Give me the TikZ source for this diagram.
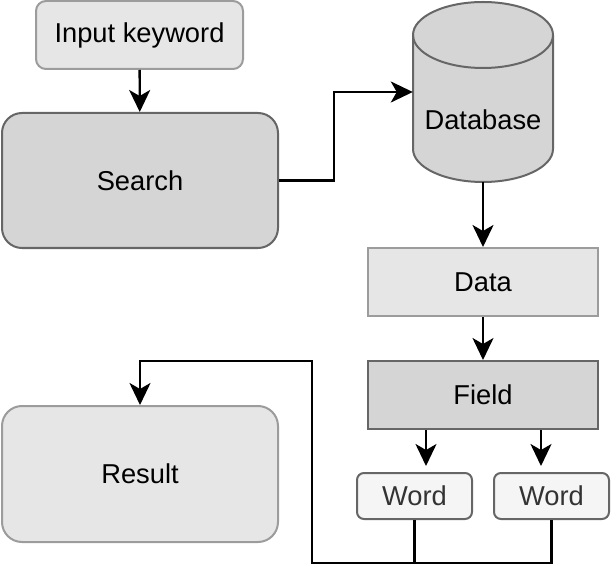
\documentclass[tikz,border=0pt]{standalone}
\usepackage{xcolor}
\usepackage{fontspec}
\setmainfont{Liberation Sans}
\usetikzlibrary{arrows.meta}
\definecolor{lightfill}{HTML}{E6E6E6}
\definecolor{darkfill}{HTML}{D5D5D5}
\definecolor{wordfill}{HTML}{F5F5F5}
\definecolor{lightline}{HTML}{9C9C9C}
\definecolor{darkline}{HTML}{666666}

\begin{document}
\begin{tikzpicture}[x=1pt,y=1pt,font=\fontsize{27.3}{32}\selectfont,
  light/.style={draw=lightline,fill=lightfill,line width=2,inner sep=0},
  dark/.style={draw=darkline,fill=darkfill,line width=2,inner sep=0},
  wordbox/.style={draw=darkline,fill=wordfill,line width=2,rounded corners=7,
    minimum width=115,minimum height=46,inner sep=0,text=black!80},
  arr/.style={line width=2.3,-{Stealth[length=22,width=21,inset=6]}},
  link/.style={line width=2.3}]
\useasboundingbox (0,0) rectangle (613,582);
\draw[dark] (413,547) -- (413,433) arc[start angle=180,end angle=360,x radius=70,y radius=33]
  -- (553,547) arc[start angle=0,end angle=180,x radius=70,y radius=33] -- cycle;
\draw[darkline,line width=2] (413,547) arc[start angle=180,end angle=360,x radius=70,y radius=33];
\node[light,rounded corners=10,minimum width=207,minimum height=68] (input) at (139.5,547) {Input keyword};
\node[dark,rounded corners=20,minimum width=276,minimum height=135] (search) at (140,401.5) {Search};
\node[inner sep=0,minimum width=140,text height=128,text depth=52] (db) at (483,490) {Database};
\node[light,minimum width=230,minimum height=68] (data) at (483,300) {Data};
\node[dark,minimum width=230,minimum height=68] (field) at (483,187) {Field};
\node[wordbox] (word1) at (414.5,86) {Word};
\node[wordbox] (word2) at (551.5,86) {Word};
\node[light,rounded corners=20,minimum width=276,minimum height=136] (result) at (140,108) {Result};
\coordinate (f1) at ([xshift=-57]field.south);
\coordinate (f2) at ([xshift=58]field.south);
\coordinate (join) at (312,19);
\draw[arr] (input) -- (search);
\draw[arr] (search.east) -- ++(55,0) |- (db.west);
\draw[arr] (db.south) -- (data);
\draw[arr] (data) -- (field);
\draw[arr,shorten >=6] (f1) -- (f1 |- word1.north);
\draw[arr,shorten >=6] (f2) -- (f2 |- word2.north);
\draw[link] (word1.south) -- (word1.south |- join);
\draw[arr] (word2.south) |- (join) -- ++(0,202) -| (result.north);
\end{tikzpicture}
\end{document}
